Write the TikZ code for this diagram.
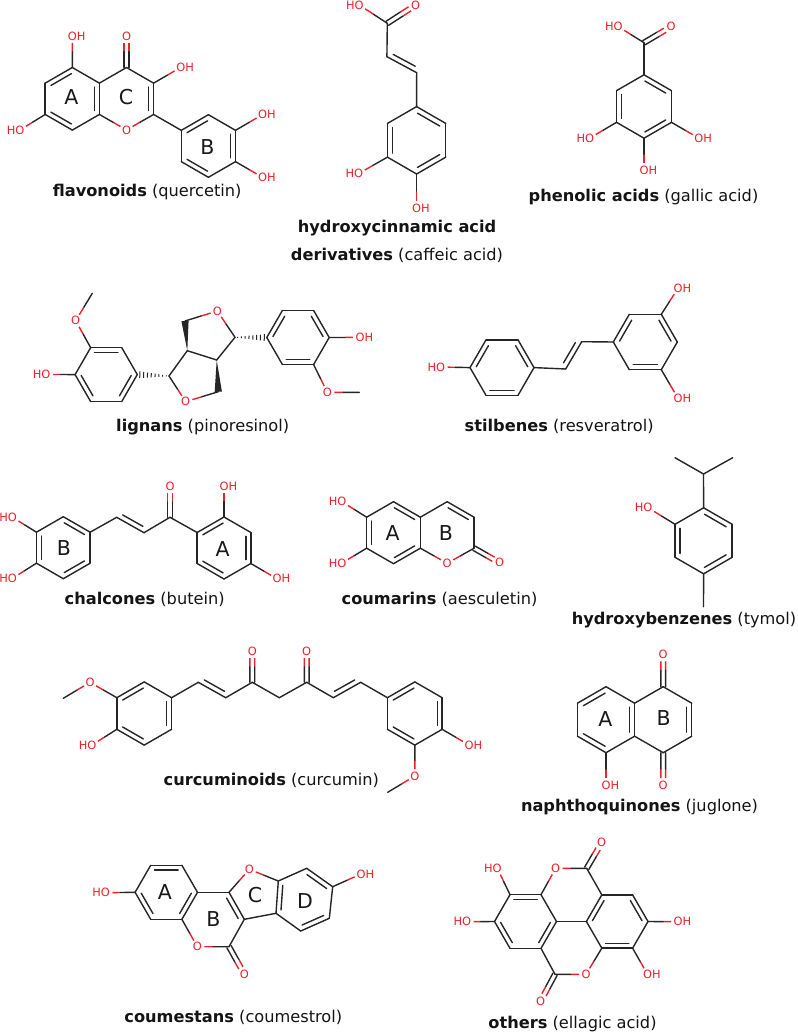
\documentclass[tikz,border=0pt]{standalone}
\usepackage{fontspec}
\setmainfont{DejaVu Sans}
\usetikzlibrary{calc}
\definecolor{inkb}{RGB}{38,38,38}
\definecolor{inkr}{RGB}{238,32,42}
\tikzset{
  bond/.style={draw=inkb,line width=1.4pt,line cap=round,line join=round},
  hbond/.style={draw=inkr,line width=1.4pt,line cap=butt},
  atomlab/.style={text=inkr,inner sep=0pt,font=\fontsize{11.4}{13}\selectfont},
  ringlab/.style={text=black!90,inner sep=0pt,font=\fontsize{20.5}{23}\selectfont},
  capt/.style={text=black!92,inner sep=0pt,font=\fontsize{16.2}{19}\selectfont,text height=14.4pt,text depth=3pt},
}
\newcommand{\mhex}[5]{\coordinate (#1c) at (#2,#3);
  \foreach \k in {1,...,6}{\coordinate (#1\k) at ($(#2,#3)+({#5+60*(\k-1)}:#4)$);}}
\newcommand{\mlines}[1]{\foreach \a/\b in {#1}{\draw[bond] (\a)--(\b);}}
\newcommand{\mring}[1]{\foreach \a/\b in {1/2,2/3,3/4,4/5,5/6,6/1}{\draw[bond] (#1\a)--(#1\b);}}
\newcommand{\minn}[2]{\foreach \a/\b in {#2}{\draw[bond,shorten <=1pt,shorten >=1pt] ($(#1)!.82!(\a)$)--($(#1)!.82!(\b)$);}}
\newcommand{\minr}[2]{\foreach \a/\b in {#2}{\draw[bond,shorten <=1pt,shorten >=1pt] ($(#1c)!.82!(#1\a)$)--($(#1c)!.82!(#1\b)$);}}
\newcommand{\mside}[2]{\draw[bond] ($(#1)!.13!(#2)!5pt!90:(#2)$)--($(#2)!.13!(#1)!5pt!-90:(#1)$);}
\newcommand{\mhb}[2]{\draw[hbond] ($(#1)!.5!(#2)$)--($(#2)!7pt!(#1)$);\draw[bond] (#1)--($(#1)!.5!(#2)$);}
\newcommand{\mdo}[2]{\foreach \p/\q in {90/-90,-90/90}{%
  \draw[hbond] ($(#1)!.5!(#2)!2.4pt!\p:(#2)$)--($(#2)!7pt!(#1)!2.4pt!\q:(#1)$);
  \draw[bond] ($(#1)!2.4pt!\p:(#2)$)--($(#1)!.5!(#2)!2.4pt!\p:(#2)$);}}
\newcommand{\lOH}[2]{\coordinate (#1) at (#2);\node[atomlab,xshift=4.4pt] (#1-l) at (#1) {OH};}
\newcommand{\lHO}[2]{\coordinate (#1) at (#2);\node[atomlab,xshift=-4.4pt] (#1-l) at (#1) {HO};}
\newcommand{\lO}[2]{\coordinate (#1) at (#2);\node[atomlab] (#1-l) at (#1) {O};}
\newcommand{\mwdg}[2]{\fill[inkb] (#1)--($(#2)!3.6pt!90:(#1)$)--($(#2)!3.6pt!-90:(#1)$)--cycle;}
\newcommand{\mhash}[2]{\foreach \t/\w in {.08/.5,.2/.9,.32/1.3,.44/1.7,.56/2.1,.68/2.5,.8/2.9,.92/3.3}{%
  \draw[inkb,line width=1pt] ($(#1)!\t!(#2)!\w pt!90:(#2)$)--($(#1)!\t!(#2)!\w pt!-90:(#2)$);}}
\begin{document}
\begin{tikzpicture}[x=1pt,y=-1pt]
\useasboundingbox (0,0) rectangle (797,1032);
\fill[white] (0,0) rectangle (797,1032);
%% quercetin
\mhex{qa}{72.3}{98.8}{31.3}{-90}
\mhex{qc}{126.5}{98.8}{31.3}{-90}
\mhex{qb}{208.4}{146}{31.3}{-90}
\mring{qa}
\mring{qb}
\mlines{qa2/qc1,qc1/qc2,qc2/qc3,qc3/qb6}
\minr{qa}{6/1,2/3,4/5}
\minr{qc}{2/3}
\minr{qb}{6/1,2/3,4/5}
\lO{qo1}{126.5,130}\mhb{qa3}{qo1}\mhb{qc3}{qo1}
\lO{qo2}{126.5,36}\mdo{qc1}{qo2}
\lOH{qo3}{72.3,36}\mhb{qa1}{qo3}
\lOH{qo4}{180.7,67.4}\mhb{qc2}{qo4}
\lHO{qo5}{20,130}\mhb{qa5}{qo5}
\lOH{qo6}{262.6,114.5}\mhb{qb2}{qo6}
\lOH{qo7}{262.6,177.4}\mhb{qb3}{qo7}
\node[ringlab] (qla) at (71.3,97) {A};
\node[ringlab] (qlc) at (126,97) {C};
\node[ringlab] (qlb) at (207.3,146.7) {B};
\node[capt] (cap1) at (147.2,191) {\textbf{flavonoids} (quercetin)};
%% caffeic acid
\mhex{cf}{416.6}{140.3}{33.7}{-90}
\mring{cf}
\minr{cf}{1/2,3/4,5/6}
\coordinate (cv1) at (416.7,72.7);
\coordinate (cv2) at (386.9,56.7);
\coordinate (cv3) at (387.3,23.3);
\mlines{cf1/cv1,cv1/cv2,cv2/cv3}
\mside{cv2}{cv1}
\lO{co1}{415.7,5}\mdo{cv3}{co1}
\lHO{co2}{359.3,5}\mhb{cv3}{co2}
\lHO{co3}{358.7,173.5}\mhb{cf5}{co3}
\lOH{co4}{416.6,208}\mhb{cf4}{co4}
\node[capt] (cap2a) at (397,227) {\textbf{hydroxycinnamic acid}};
\node[capt] (cap2b) at (397,255) {\textbf{derivatives} (caffeic acid)};
%% gallic acid
\mhex{ga}{644}{106.5}{31.7}{-90}
\mring{ga}
\minr{ga}{1/2,3/4,5/6}
\coordinate (gc) at (644,42.7);
\mlines{ga1/gc}
\lO{go1}{671,26.7}\mdo{gc}{go1}
\lHO{go2}{618.3,26.7}\mhb{gc}{go2}
\lHO{go3}{589.7,138.1}\mhb{ga5}{go3}
\lOH{go4}{698.7,138.1}\mhb{ga3}{go4}
\lOH{go5}{644,170}\mhb{ga4}{go5}
\node[capt] (cap3) at (643.5,196) {\textbf{phenolic acids} (gallic acid)};
%% pinoresinol
\mhex{pl}{106.2}{374.6}{31.1}{-120}
\mring{pl}
\minr{pl}{1/2,3/4,5/6}
\mhex{pr}{298}{337.5}{31.2}{-120}
\mring{pr}
\minr{pr}{6/1,2/3,4/5}
\lO{po1}{75.7,320.7}\mhb{pl1}{po1}
\coordinate (pm1) at (92.3,293.3);\mhb{pm1}{po1}
\lHO{po2}{46,374.4}\mhb{pl6}{po2}
\coordinate (pc1) at (169,376);
\lO{po3}{185.7,401.7}
\coordinate (pc2) at (218.3,391.7);
\coordinate (pc3) at (216.7,360);
\coordinate (pc4) at (187.3,350.7);
\coordinate (pc5) at (185,321);
\lO{po4}{217.3,311}
\coordinate (pc6) at (235,337.3);
\mhb{pc1}{po3}\mhb{pc2}{po3}\mhb{pc5}{po4}\mhb{pc6}{po4}
\mlines{pc3/pc4,pc4/pc1,pc6/pc3}
\mwdg{pc3}{pc2}
\mwdg{pc4}{pc5}
\mhash{pc1}{pl3}
\mhash{pc6}{pr6}
\lOH{po5}{360,337.4}\mhb{pr3}{po5}
\lO{po6}{327.3,392.3}\mhb{pr4}{po6}
\coordinate (pm2) at (359.3,392.3);\mhb{pm2}{po6}
\node[capt] (cap4) at (202.7,426) {\textbf{lignans} (pinoresinol)};
%% resveratrol
\mhex{rl}{502}{367.6}{32}{-120}
\mring{rl}
\minr{rl}{6/1,2/3,4/5}
\mhex{rr}{645.3}{342}{32}{-120}
\mring{rr}
\minr{rr}{6/1,2/3,4/5}
\coordinate (rv1) at (565.7,369);
\coordinate (rv2) at (581.7,341.7);
\mlines{rl3/rv1,rv1/rv2,rv2/rr6}
\mside{rv1}{rv2}
\lHO{ro1}{440.7,367}\mhb{rl6}{ro1}
\lOH{ro2}{678,288.3}\mhb{rr2}{ro2}
\lOH{ro3}{678,398.3}\mhb{rr4}{ro3}
\node[capt] (cap5) at (559.2,426) {\textbf{stilbenes} (resveratrol)};
%% butein
\mhex{bb}{63.3}{547.7}{31}{-90}
\mring{bb}
\minr{bb}{5/6,1/2,3/4}
\mhex{ba}{224}{548}{31}{-90}
\mring{ba}
\minr{ba}{6/1,2/3,4/5}
\coordinate (bv1) at (116.7,517.3);
\coordinate (bv2) at (144,532.7);
\coordinate (bv3) at (170,517.3);
\mlines{bb2/bv1,bv1/bv2,bv2/bv3,bv3/ba6}
\mside{bv1}{bv2}
\lO{bo1}{170,486}\mdo{bv3}{bo1}
\lHO{bo2}{12.5,517.3}\mhb{bb6}{bo2}
\lHO{bo3}{12.5,578.3}\mhb{bb5}{bo3}
\lOH{bo4}{224,486}\mhb{ba1}{bo4}
\lOH{bo5}{277,578.8}\mhb{ba3}{bo5}
\node[ringlab] (bla) at (222.7,549.3) {A};
\node[ringlab] (blb) at (64,548.3) {B};
\node[capt] (cap6) at (144.7,599) {\textbf{chalcones} (butein)};
%% aesculetin
\mhex{aa}{393.5}{532.7}{31}{-90}
\mring{aa}
\minr{aa}{1/2,3/4,5/6}
\mhex{ab}{447.2}{532.7}{31}{-90}
\minr{ab}{1/2}
\mlines{aa2/ab1,ab1/ab2,ab2/ab3}
\lO{ao1}{447.2,563.3}\mhb{aa3}{ao1}\mhb{ab3}{ao1}
\lO{ao2}{499.5,562.7}\mdo{ab3}{ao2}
\lHO{ao3}{342,501.7}\mhb{aa6}{ao3}
\lHO{ao4}{342,563}\mhb{aa5}{ao4}
\node[ringlab] (ala) at (392.7,533.3) {A};
\node[ringlab] (alb) at (446,533.3) {B};
\node[capt] (cap7) at (439.5,599) {\textbf{coumarins} (aesculetin)};
%% thymol
\mhex{th}{703.6}{540.8}{33}{-90}
\mring{th}
\minr{th}{1/2,3/4,5/6}
\coordinate (ti) at (703.5,474);
\coordinate (ti1) at (675,457.7);
\coordinate (ti2) at (732.7,457.7);
\coordinate (tm) at (703.5,606.7);
\mlines{th1/ti,ti/ti1,ti/ti2,th4/tm}
\lHO{to1}{648,507.7}\mhb{th6}{to1}
\node[capt] (cap8) at (684,619) {\textbf{hydroxybenzenes} (tymol)};
%% curcumin
\mhex{ul}{144.2}{713.5}{31.6}{-90}
\mring{ul}
\minr{ul}{6/1,2/3,4/5}
\mhex{ur}{414.8}{713.5}{31.6}{-90}
\mring{ur}
\minr{ur}{6/1,2/3,4/5}
\coordinate (uc1) at (198.3,682.3);
\coordinate (uc2) at (225.7,697.7);
\coordinate (uc3) at (252.3,682.3);
\coordinate (uc4) at (279.3,697.7);
\coordinate (uc5) at (306.7,682.3);
\coordinate (uc6) at (333.3,697.7);
\coordinate (uc7) at (360.7,682.3);
\mlines{ul2/uc1,uc1/uc2,uc2/uc3,uc3/uc4,uc4/uc5,uc5/uc6,uc6/uc7,uc7/ur6}
\mside{uc1}{uc2}
\mside{uc6}{uc7}
\lO{uo1}{252.3,651}\mdo{uc3}{uo1}
\lO{uo2}{306.7,651}\mdo{uc5}{uo2}
\lO{uo3}{90,682.3}\mhb{ul6}{uo3}
\coordinate (um1) at (63.3,698.3);\mhb{um1}{uo3}
\lHO{uo4}{92,745}\mhb{ul5}{uo4}
\lOH{uo5}{469,745}\mhb{ur3}{uo5}
\lO{uo6}{414.8,776}\mhb{ur4}{uo6}
\coordinate (um2) at (387.7,792.3);\mhb{um2}{uo6}
\node[capt] (cap9) at (271.3,779.3) {\textbf{curcuminoids} (curcumin)};
%% juglone
\mhex{ja}{606}{719.7}{33}{-90}
\mring{ja}
\minr{ja}{6/1,2/3,4/5}
\mhex{jb}{663.2}{719.7}{33}{-90}
\minr{jb}{2/3}
\mlines{ja2/jb1,jb1/jb2,jb2/jb3,jb3/jb4,jb4/ja3}
\lO{jo1}{663.2,654.3}\mdo{jb1}{jo1}
\lO{jo2}{663.2,785}\mdo{jb4}{jo2}
\lOH{jo3}{606,785}\mhb{ja4}{jo3}
\node[ringlab] (jla) at (605.3,719) {A};
\node[ringlab] (jlb) at (663.7,718.3) {B};
\node[capt] (cap10) at (639.5,805.7) {\textbf{naphthoquinones} (juglone)};
%% coumestrol
\mhex{ka}{166.3}{892.3}{31.2}{-120}
\mring{ka}
\minr{ka}{1/2,3/4,5/6}
\coordinate (kb1) at (229,892.3);
\coordinate (kb2) at (244.3,919.3);
\coordinate (kb3) at (229,946.7);
\coordinate (kbc) at (213,919.5);
\mlines{ka3/kb1,kb1/kb2,kb2/kb3}
\minn{kbc}{kb1/kb2}
\lO{ko1}{197.3,946.7}\mhb{ka4}{ko1}\mhb{kb3}{ko1}
\lO{ko2}{244.3,974}\mdo{kb3}{ko2}
\lO{ko3}{249.3,869.3}\mhb{kb1}{ko3}
\coordinate (kd1) at (278.3,881);
\coordinate (kd2) at (306.7,868.3);
\coordinate (kd3) at (332.7,886.7);
\coordinate (kd4) at (329.3,918.3);
\coordinate (kd5) at (300.7,931);
\coordinate (kd6) at (276,913.3);
\coordinate (kdc) at (303.5,900);
\mhb{kd1}{ko3}
\mlines{kb2/kd6,kd1/kd2,kd2/kd3,kd3/kd4,kd4/kd5,kd5/kd6,kd6/kd1}
\minn{kdc}{kd6/kd1,kd2/kd3,kd4/kd5}
\lHO{ko4}{105.5,892.7}\mhb{ka6}{ko4}
\lOH{ko5}{361,874}\mhb{kd3}{ko5}
\node[ringlab] (kla) at (165,891.7) {A};
\node[ringlab] (klb) at (213.3,919.3) {B};
\node[ringlab] (klc) at (255,895) {C};
\node[ringlab] (kld) at (305,901) {D};
\node[capt] (cap11) at (233.3,1016.7) {\textbf{coumestans} (coumestrol)};
%% ellagic acid
\mhex{el}{525.5}{921.5}{31}{-120}
\mring{el}
\minr{el}{1/2,3/4,5/6}
\mhex{er}{617.2}{921.5}{30.8}{-120}
\mring{er}
\minr{er}{6/1,2/3,4/5}
\coordinate (et) at (586.7,868.3);
\coordinate (eb) at (555,974.3);
\mlines{el3/er6,er1/et,el4/eb}
\lO{eo1}{555.7,868.3}\mhb{el2}{eo1}\mhb{et}{eo1}
\lO{eo2}{586,974.3}\mhb{er5}{eo2}\mhb{eb}{eo2}
\lO{eo3}{601.7,842.7}\mdo{et}{eo3}
\lO{eo4}{540.7,1001}\mdo{eb}{eo4}
\lHO{eo5}{497.3,868.3}\mhb{el1}{eo5}
\lHO{eo6}{466.7,921.7}\mhb{el6}{eo6}
\lOH{eo7}{678,921.7}\mhb{er3}{eo7}
\lOH{eo8}{647.5,974.3}\mhb{er4}{eo8}
\node[capt] (cap12) at (572.5,1022.7) {\textbf{others} (ellagic acid)};
\end{tikzpicture}
\end{document}
